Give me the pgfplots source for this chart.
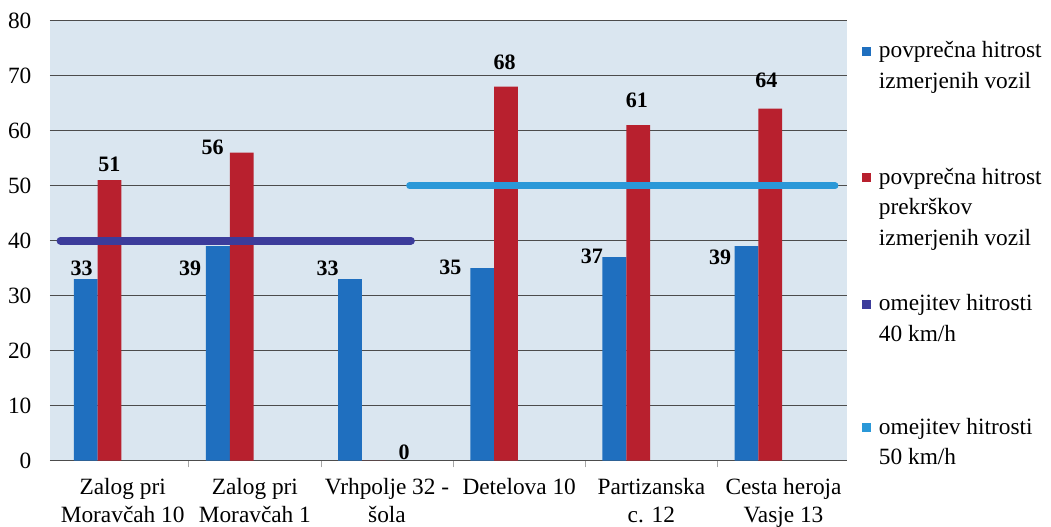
\documentclass[border=0pt]{standalone}
\usepackage{pgfplots}
\pgfplotsset{compat=1.18}
\usepackage{fontspec}
\setmainfont{Liberation Serif}
\definecolor{barblue}{RGB}{31,111,191}
\definecolor{barred}{RGB}{184,32,46}
\definecolor{lineforty}{RGB}{60,60,155}
\definecolor{linefifty}{RGB}{42,152,216}
\definecolor{bgcol}{RGB}{218,230,240}
\newcommand{\lsq}[1]{\raisebox{1.5pt}{\textcolor{#1}{\rule{6.5pt}{6.5pt}}}\hspace{6pt}}
\begin{document}
\begin{tikzpicture}
\begin{axis}[
  scale only axis,
  clip mode=individual,
  width=597.75pt, height=330pt,
  xmin=-0.55, xmax=5.48,
  ymin=0, ymax=80,
  ytick={0,10,...,80},
  xtick={0,1,2,3,4,5},
  xticklabels={{Zalog pri\\Moravčah 10},{Zalog pri\\Moravčah 1},{Vrhpolje 32 -\\šola},{Detelova 10},{Partizanska\\c. 12},{Cesta heroja\\Vasje 13}},
  minor xtick={0.5,1.5,2.5,3.5,4.5},
  major x tick style={draw=none},
  minor x tick style={draw=gray!70, line width=0.6pt},
  minor tick length=5pt,
  tick align=outside,
  xtick pos=bottom,
  ytick style={draw=none},
  axis line style={draw=none},
  axis background/.style={fill=bgcol},
  ymajorgrids,
  grid style={gray!60!black, line width=0.5pt},
  /pgf/number format/assume math mode=true,
  tick label style={font=\fontsize{17.5}{20.5}\selectfont},
  xticklabel style={align=center, inner sep=0pt, yshift=-9pt},
  yticklabel style={inner sep=0pt, xshift=-9.5pt},
]
\addplot[ybar, bar width=0.18, bar shift=-0.28, fill=barblue, draw=none]
  coordinates {(0,33)(1,39)(2,33)(3,35)(4,37)(5,39)};
\addplot[ybar, bar width=0.18, bar shift=-0.10, fill=barred, draw=none]
  coordinates {(0,51)(1,56)(2,0)(3,68)(4,61)(5,64)};
\addplot[lineforty, line width=6pt, line cap=round]
  coordinates {(-0.47,40)(2.18,40)};
\addplot[linefifty, line width=5pt, line cap=round]
  coordinates {(2.17,50)(5.39,50)};
% data labels
\addplot[draw=none, mark=none, nodes near coords, point meta=explicit symbolic,
  every node near coord/.append style={anchor=center, font=\fontsize{16.5}{18}\selectfont\bfseries, inner sep=0pt}]
  coordinates {(-0.31,35.0)[33] (0.51,35.0)[39] (1.55,35.0)[33] (2.48,35.2)[35] (3.55,37.2)[37] (4.52,37.0)[39]};
\addplot[draw=none, mark=none, nodes near coords, point meta=explicit symbolic,
  every node near coord/.append style={anchor=center, font=\fontsize{16.5}{18}\selectfont\bfseries, inner sep=0pt}]
  coordinates {(-0.10,53.8)[51] (0.68,56.9)[56] (2.13,1.6)[0] (2.89,72.5)[68] (3.89,65.6)[61] (4.87,69.2)[64]};
\end{axis}
% legend (text placed relative to the axis box)
\begin{scope}[every node/.style={anchor=base west, inner sep=0pt, font=\fontsize{17.5}{23}\selectfont}]
\path (current axis.south west) ++(609pt,302pt) node {\lsq{barblue}\begin{tabular}[t]{@{}l@{}}povprečna hitrost\\izmerjenih vozil\end{tabular}};
\path (current axis.south west) ++(609pt,207.5pt) node {\lsq{barred}\begin{tabular}[t]{@{}l@{}}povprečna hitrost\\prekrškov\\izmerjenih vozil\end{tabular}};
\path (current axis.south west) ++(609pt,112.5pt) node {\lsq{lineforty}\begin{tabular}[t]{@{}l@{}}omejitev hitrosti\\40 km/h\end{tabular}};
\path (current axis.south west) ++(609pt,20pt) node {\lsq{linefifty}\begin{tabular}[t]{@{}l@{}}omejitev hitrosti\\50 km/h\end{tabular}};
\end{scope}
\pgfresetboundingbox
\path[use as bounding box] (current axis.south west) ++(-37.5pt,-49pt) rectangle ++(788.25pt,394.5pt);
\end{tikzpicture}
\end{document}
